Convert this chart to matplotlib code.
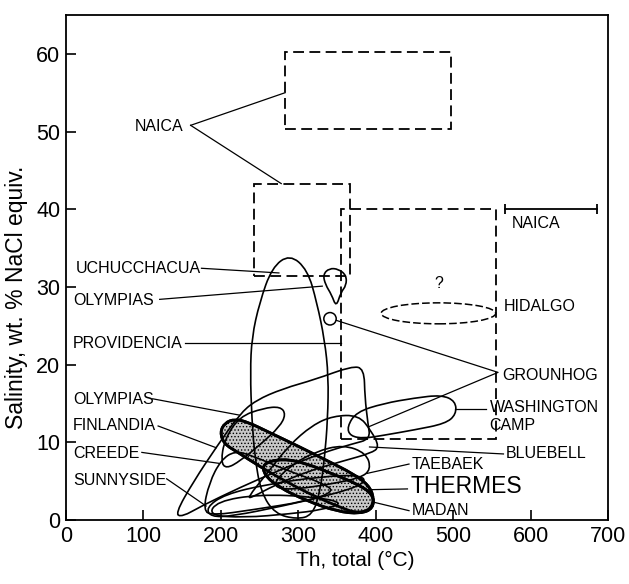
import numpy as np
import matplotlib
matplotlib.use("Agg")
import matplotlib.pyplot as plt
from matplotlib.path import Path
from matplotlib.patches import PathPatch, Rectangle, Ellipse

plt.rcParams['font.family'] = ['Liberation Sans', 'DejaVu Sans']
plt.rcParams['hatch.linewidth'] = 0.6

# dashed boxes: x0, x1, y0, y1
naica_box_upper = [283, 497, 50.3, 60.3]
naica_box_mid = [243, 367, 31.4, 43.2]
providencia_box = [355, 555, 10.4, 40.0]

# naica range bar at the right
naica_bar_x = [567, 686]
naica_bar_y = 40.0

# ellipses: centre x, centre y, width, height
grounhog_circle = [341, 25.9, 16, 1.6]
hidalgo_ellipse = [481, 26.6, 148, 2.7]

# outlines (x, y)
uchucchacua = [(289, 34.2), (312, 32.2), (324, 28), (334, 23.2), (339, 18.5), (338, 13),
               (334, 8), (328, 3.5), (318, 0.6), (298, 0.1), (270, 0.8), (252, 3.5),
               (244, 8), (240, 13), (238, 19), (240, 23.5), (250, 28), (266, 32.5)]
olympias_blob = [(332, 31.6), (340, 32.4), (352, 32.3), (362, 31.5), (362, 30.2),
                 (355, 29.3), (349, 27.4), (343, 29), (335, 30.3)]
washington = [(363, 12), (375, 13.9), (410, 15), (450, 15.7), (485, 16.1), (503, 15.3),
              (504, 13.6), (490, 12.4), (450, 11.6), (410, 10.9), (385, 10.5), (367, 10.8)]
olympias_low = [(141, 0.8), (165, 5), (195, 9.5), (224, 13.6), (245, 15.4), (280, 16.9),
                (322, 18.1), (369, 19.8), (385, 19.5), (386, 15.8), (390, 12.4), (393, 10.4),
                (370, 9.8), (330, 8.6), (280, 6.6), (225, 4.2), (175, 1.8), (150, 0.4)]
finlandia = [(200, 7.5), (205, 10.4), (224, 13.3), (255, 14.4), (277, 14.6), (284, 13.6),
             (276, 12), (252, 9.8), (225, 7.6), (207, 6.6)]
creede = [(177, 1.2), (185, 4.8), (200, 7.7), (218, 8.9), (240, 8.3), (285, 6.4),
          (335, 4.6), (346, 3.6), (310, 2.4), (240, 1.3), (190, 0.6)]
sunnyside = [(181, 1.6), (205, 3.3), (260, 4.6), (330, 5.6), (382, 5.8), (387, 4.7),
             (345, 3.3), (280, 1.8), (215, 0.5), (187, 0.4)]
bottom_loop = [(184, 0.6), (195, 2.4), (250, 3.3), (320, 3.0), (360, 2.2), (330, 1.3),
               (290, 0.8), (230, 0.3)]
bluebell = [(234, 2.8), (258, 5.8), (288, 9.6), (318, 12.2), (345, 13.4), (378, 13.5),
            (394, 11.5), (405, 9.4), (394, 8.6), (358, 7.6), (310, 6.2), (268, 4.4), (242, 3.0)]
taebaek = [(268, 4.8), (290, 7.0), (322, 8.8), (358, 9.7), (388, 8.6), (394, 6.5),
           (380, 5.4), (340, 4.6), (300, 4.0), (275, 4.0)]
shade_long = [(199, 11.3), (205, 12.5), (218, 13.0), (235, 12.6), (262, 11.3), (300, 9.5),
              (340, 7.5), (370, 6.0), (391, 4.5), (398, 2.8), (393, 1.3), (375, 0.9),
              (355, 1.6), (320, 3.1), (285, 4.9), (250, 6.9), (222, 8.7), (204, 9.8)]
shade_low = [(254, 7.3), (280, 7.9), (310, 7.3), (345, 5.9), (375, 4.7), (397, 3.3),
             (397, 1.5), (380, 0.8), (350, 1.1), (310, 2.5), (275, 4.2), (256, 5.8)]

# leader lines
leaders = [
    [(161, 50.8), (283, 55.0)],
    [(161, 50.8), (278, 43.3)],
    [(175, 32.4), (275, 31.8)],
    [(121, 28.4), (331, 30.1)],
    [(154, 22.8), (355, 22.8)],
    [(349, 25.7), (558, 19.0), (391, 12.0)],
    [(503, 14.3), (543, 14.3)],
    [(112, 15.6), (224, 13.5)],
    [(119, 12.1), (194, 9.3)],
    [(98, 8.7), (197, 7.3)],
    [(130, 5.3), (181, 1.8)],
    [(392, 9.4), (565, 8.5)],
    [(389, 6.0), (443, 7.2)],
    [(392, 3.9), (441, 4.0)],
    [(397, 2.3), (443, 1.2)],
]

# labels: text, x, y, size
labels = [
    ("NAICA", 89, 50.6, 11.5), ("UCHUCCHACUA", 12, 32.4, 11.5), ("OLYMPIAS", 9, 28.3, 11.5),
    ("PROVIDENCIA", 9, 22.7, 11.5), ("OLYMPIAS", 9, 15.5, 11.5), ("FINLANDIA", 9, 12.2, 11.5),
    ("CREEDE", 9, 8.5, 11.5), ("SUNNYSIDE", 9, 5.1, 11.5), ("NAICA", 576, 38.1, 11.5),
    ("HIDALGO", 566, 27.5, 11.5), ("GROUNHOG", 564, 18.6, 11.5), ("WASHINGTON", 547, 14.5, 11.5),
    ("CAMP", 547, 12.2, 11.5), ("BLUEBELL", 568, 8.5, 11.5), ("TAEBAEK", 446, 7.2, 11.5),
    ("THERMES", 445, 4.3, 16.5), ("MADAN", 446, 1.2, 11.5),
]


def smooth_closed(pts):
    pts = np.asarray(pts, float)
    mids = (pts + np.roll(pts, -1, axis=0)) / 2
    verts = [mids[-1]]
    codes = [Path.MOVETO]
    for i in range(len(pts)):
        verts += [pts[i], mids[i]]
        codes += [Path.CURVE3, Path.CURVE3]
    return Path(verts, codes)


fig = plt.figure(figsize=(6.29, 5.84), dpi=100)
ax = fig.add_axes([0.1049, 0.1096, 0.8617, 0.8647])
ax.set_xlim(0, 700)
ax.set_ylim(0, 65)

dash = (0, (6, 3))
for x0, x1, y0, y1 in [naica_box_upper, naica_box_mid, providencia_box]:
    ax.add_patch(Rectangle((x0, y0), x1 - x0, y1 - y0, fill=False, lw=1.3,
                           ls=dash, ec='black', zorder=2))

ax.plot(naica_bar_x, [naica_bar_y] * 2, color='black', lw=1.3, marker='|',
        markersize=7, mew=1.3)

cx, cy, w, h = grounhog_circle
ax.add_patch(Ellipse((cx, cy), w, h, fill=False, lw=1.1, ec='black'))
cx, cy, w, h = hidalgo_ellipse
ax.add_patch(Ellipse((cx, cy), w, h, fill=False, lw=1.1, ls=(0, (5, 2)), ec='black'))

for shp in [shade_long, shade_low]:
    ax.add_patch(PathPatch(smooth_closed(shp), fc='#c8c8c8', ec='black', lw=2.0,
                           hatch='.....', zorder=1))

for shp in [uchucchacua, olympias_blob, washington, olympias_low, finlandia, creede,
            sunnyside, bottom_loop, bluebell, taebaek]:
    ax.add_patch(PathPatch(smooth_closed(shp), fill=False, ec='black', lw=1.2, zorder=2))

for shp in [shade_long, shade_low]:
    ax.add_patch(PathPatch(smooth_closed(shp), fill=False, ec='black', lw=2.0, zorder=3))

for pts in leaders:
    xs, ys = zip(*pts)
    ax.plot(xs, ys, color='black', lw=0.9)

for txt, x, y, s in labels:
    ax.text(x, y, txt, fontsize=s, va='center', ha='left')
ax.text(481, 30.5, "?", fontsize=11.5, ha='center', va='center')

ax.set_xticks(range(0, 701, 100))
ax.set_yticks(range(0, 61, 10))
ax.tick_params(direction='in', length=7, width=1.2, labelsize=15.5, pad=4)
for sp in ax.spines.values():
    sp.set_linewidth(1.3)
ax.set_xlabel("Th, total (°C)", fontsize=15)
ax.set_ylabel("Salinity, wt. % NaCl equiv.", fontsize=16.5)
ax.xaxis.set_label_coords(0.533, -0.062)
ax.yaxis.set_label_coords(-0.07, 0.44)

fig.savefig("out.png", dpi=100)
